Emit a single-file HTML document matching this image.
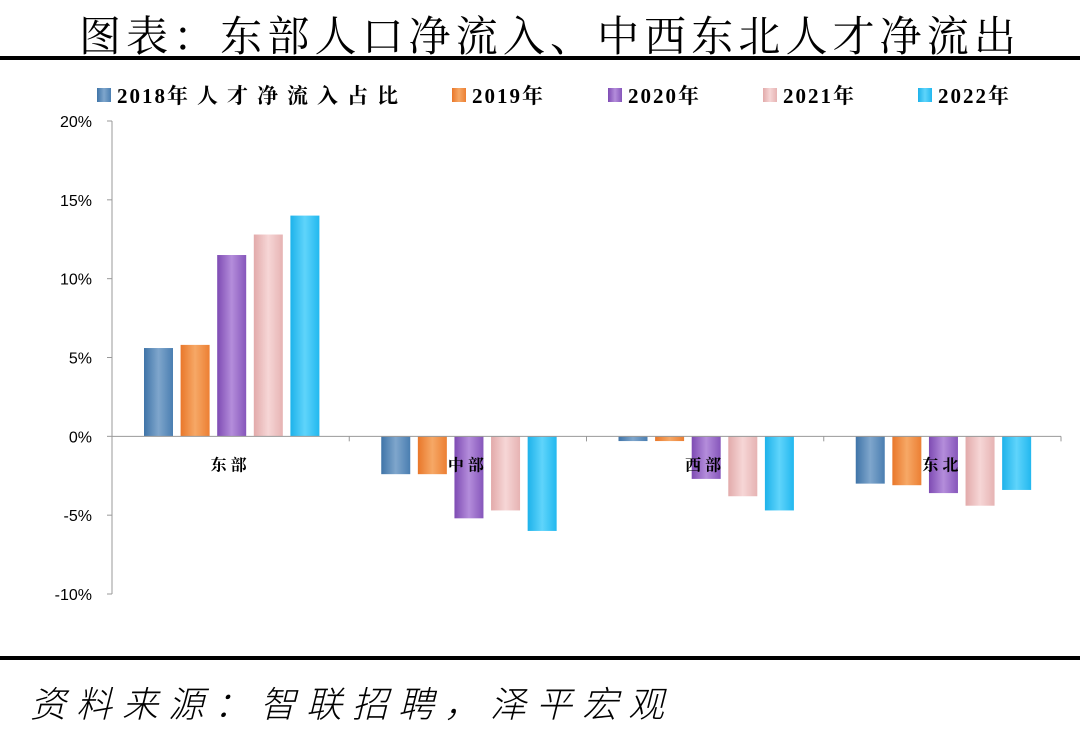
<!DOCTYPE html>
<html><head><meta charset="utf-8"><style>
body{margin:0;width:1080px;height:735px;background:#fff;overflow:hidden;position:relative;font-family:"Liberation Serif","Noto Serif CJK SC",serif}
.title{position:absolute;left:10px;width:1080px;top:4px;text-align:center;font-size:42px;letter-spacing:5.1px;color:#000;font-family:"Liberation Serif","Noto Serif CJK SC",serif}
.rule{position:absolute;left:0;width:1080px;background:#000}
.src{position:absolute;left:30px;top:676px;font-size:36px;letter-spacing:10px;font-style:italic;font-family:"Noto Sans CJK SC",sans-serif;font-weight:300}
</style></head><body>
<div class="title">图表：东部人口净流入、中西东北人才净流出</div>
<div class="rule" style="top:56px;height:4px"></div>
<svg id="c" width="1080" height="735" style="position:absolute;left:0;top:0">
<defs>
<linearGradient id="g0" x1="0" x2="1"><stop offset="0" stop-color="#3f74a8"/><stop offset="0.5" stop-color="#7fa6cc"/><stop offset="1" stop-color="#4a7eb1"/></linearGradient>
<linearGradient id="g1" x1="0" x2="1"><stop offset="0" stop-color="#e9772a"/><stop offset="0.5" stop-color="#f6a866"/><stop offset="1" stop-color="#ec7f33"/></linearGradient>
<linearGradient id="g2" x1="0" x2="1"><stop offset="0" stop-color="#7e4bb3"/><stop offset="0.5" stop-color="#b48ddb"/><stop offset="1" stop-color="#8656bb"/></linearGradient>
<linearGradient id="g3" x1="0" x2="1"><stop offset="0" stop-color="#e2aaaa"/><stop offset="0.5" stop-color="#f6d6d6"/><stop offset="1" stop-color="#e6b3b3"/></linearGradient>
<linearGradient id="g4" x1="0" x2="1"><stop offset="0" stop-color="#1db2ea"/><stop offset="0.5" stop-color="#5fd4fb"/><stop offset="1" stop-color="#22b8ef"/></linearGradient>
</defs>
</svg>
<div class="rule" style="top:656px;height:4px"></div>
<div class="src">资料来源：智联招聘，泽平宏观</div>
<script>
const categories=["东部","中部","西部","东北"];
const seriesNames=["2018年人才净流入占比","2019年","2020年","2021年","2022年"];
const s2018=[5.6,-2.4,-0.3,-3.0];
const s2019=[5.8,-2.4,-0.3,-3.1];
const s2020=[11.5,-5.2,-2.7,-3.6];
const s2021=[12.8,-4.7,-3.8,-4.4];
const s2022=[14.0,-6.0,-4.7,-3.4];
const ticks=[20,15,10,5,0,-5,-10];
const series=[s2018,s2019,s2020,s2021,s2022];
const svg=document.getElementById('c');const NS='http://www.w3.org/2000/svg';
function mk(t,a,p){const e=document.createElementNS(NS,t);for(const k in a)e.setAttribute(k,a[k]);(p||svg).appendChild(e);return e;}
const x0=112,x1=1061,yTop=121,yBot=594,vMax=20,vMin=-10;
const y=v=>yTop+(vMax-v)/(vMax-vMin)*(yBot-yTop);
const gw=(x1-x0)/categories.length;
let e=mk('line',{x1:x0,x2:x0,y1:yTop,y2:yBot,stroke:'#999'});

ticks.forEach(t=>{let l=mk('line',{x1:x0-5,x2:x0,y1:y(t),y2:y(t),stroke:'#999'});

let tx=mk('text',{x:x0-20,y:y(t)+6,'text-anchor':'end','font-size':16,'font-family':'Liberation Sans, sans-serif'});tx.textContent=t+'%';
});
series.forEach((s,si)=>s.forEach((v,ci)=>{
const bx=x0+ci*gw+32+si*36.6;
const r=mk('rect',{x:bx,y:Math.min(y(v),y(0)),width:29,height:Math.abs(y(v)-y(0)),fill:'url(#g'+si+')'});
}));
e=mk('line',{x1:x0,x2:x1,y1:y(0),y2:y(0),stroke:'#999'});

categories.forEach((c,ci)=>{let l=mk('line',{x1:x0+(ci+1)*gw,x2:x0+(ci+1)*gw,y1:y(0),y2:y(0)+5,stroke:'#999'});

let t=mk('text',{x:x0+ci*gw+gw/2,y:y(0)+34,'text-anchor':'middle','font-size':16,'font-weight':'bold','letter-spacing':4});t.textContent=c;
});
const lx=[97,452,608,763,918];
seriesNames.forEach((n,i)=>{let r=mk('rect',{x:lx[i],y:88,width:14,height:14,fill:'url(#g'+i+')'});

let t=mk('text',{x:lx[i]+20,y:103,'font-size':21,'font-weight':'bold'});

const m=n.match(/^(\d+)(.*)$/);
let a=mk('tspan',{'letter-spacing':2},t);a.textContent=m[1];
let b=mk('tspan',{'letter-spacing':9},t);b.textContent=m[2];});
</script>
</body></html>
